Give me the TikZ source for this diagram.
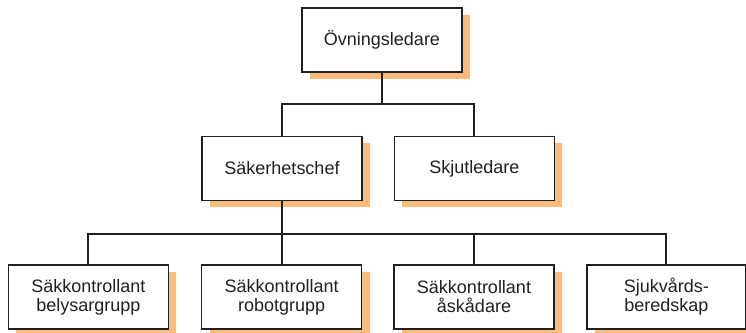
\documentclass[tikz,border=0pt]{standalone}
\usepackage{fontspec}
\setmainfont{Liberation Sans}
\usetikzlibrary{shadows}
\definecolor{shadeorange}{HTML}{FDBB7B}
\definecolor{inkgray}{HTML}{231F20}
\tikzset{
  roleb/.style={draw=inkgray, fill=white, line width=0.85pt, align=center,
    minimum width=4cm, minimum height=1.6cm, inner sep=3pt, text=inkgray,
    font=\fontsize{12.8}{13.6}\selectfont,
    drop shadow={shadow xshift=0.2cm, shadow yshift=-0.175cm,
      fill=shadeorange, opacity=1}},
  link/.style={line width=1.4pt, draw=inkgray},
}

\begin{document}
\begin{tikzpicture}
    \useasboundingbox (0,0) rectangle (18.65,8.3);
    \node[roleb] (ledare) at (9.55,7.3) {Övningsledare};
    \node[roleb] (saker) at (7.05,4.09) {Säkerhetschef};
    \node[roleb] (skjut) at (11.86,4.09) {Skjutledare};
    \node[roleb] (bely) at (2.21,0.875) {Säkkontrollant\\belysargrupp};
    \node[roleb] (robot) at (7.04,0.875) {Säkkontrollant\\robotgrupp};
    \node[roleb] (ask) at (11.85,0.875) {Säkkontrollant\\åskådare};
    \node[roleb, minimum width=3.975cm] (sjuk) at (16.66,0.875) {Sjukvårds-\\beredskap};
    % upper branch
    \coordinate (hubA) at (9.55,5.7);
    \draw[link] (ledare) -- (hubA);
    \draw[link] (saker) |- (hubA) -| (skjut);
    % lower branch
    \coordinate (hubB) at (7.05,2.45);
    \draw[link] (saker) -- (hubB);
    \draw[link] (bely) |- (hubB) -| (sjuk);
    \draw[link] (robot) -- (robot |- hubB);
    \draw[link] (ask) -- (ask |- hubB);
  \end{tikzpicture}
\end{document}
